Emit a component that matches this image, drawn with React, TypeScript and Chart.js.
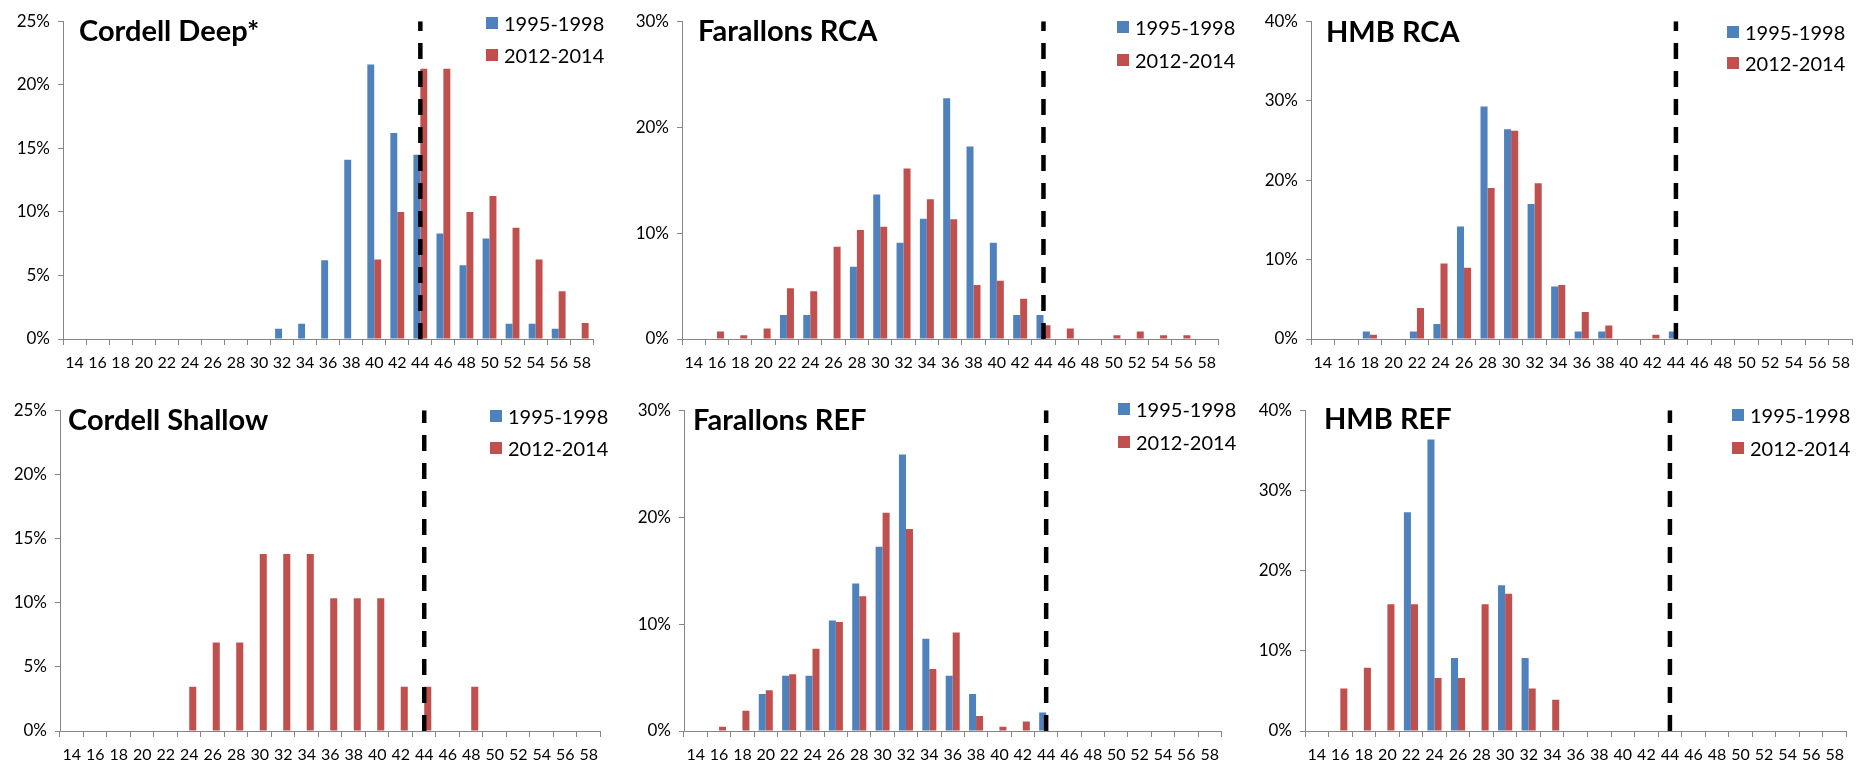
import { useEffect, useRef } from "react";
import { Chart, registerables, type ChartConfiguration } from "chart.js";

Chart.register(...registerables);

// length classes (cm), shared by every panel
const sizes = [
  "14", "16", "18", "20", "22", "24", "26", "28", "30", "32", "34", "36",
  "38", "40", "42", "44", "46", "48", "50", "52", "54", "56", "58",
];
const cutoff = "44";
const seriesNames = ["1995-1998", "2012-2014"];

// percent of fish per size class
const cordellDeepEarly = [0, 0, 0, 0, 0, 0, 0, 0, 0, 0.8, 1.2, 6.2, 14.1, 21.6, 16.2, 14.5, 8.3, 5.8, 7.9, 1.2, 1.2, 0.8, 0];
const cordellDeepLate = [0, 0, 0, 0, 0, 0, 0, 0, 0, 0, 0, 0, 0, 6.25, 10, 21.25, 21.25, 10, 11.25, 8.75, 6.25, 3.75, 1.25];

const farallonsRcaEarly = [0, 0, 0, 0, 2.27, 2.27, 0, 6.82, 13.64, 9.09, 11.36, 22.73, 18.18, 9.09, 2.27, 2.27, 0, 0, 0, 0, 0, 0, 0];
const farallonsRcaLate = [0, 0.7, 0.35, 1.0, 4.8, 4.5, 8.7, 10.3, 10.6, 16.1, 13.2, 11.3, 5.1, 5.5, 3.8, 1.3, 1.0, 0, 0.35, 0.7, 0.35, 0.35, 0];

const hmbRcaEarly = [0, 0, 0.94, 0, 0.94, 1.89, 14.15, 29.25, 26.4, 16.98, 6.6, 0.94, 0.94, 0, 0, 0.94, 0, 0, 0, 0, 0, 0, 0];
const hmbRcaLate = [0, 0, 0.54, 0, 3.9, 9.5, 8.96, 19.0, 26.2, 19.6, 6.8, 3.4, 1.7, 0, 0.54, 0, 0, 0, 0, 0, 0, 0, 0];

const cordellShallowEarly = [0, 0, 0, 0, 0, 0, 0, 0, 0, 0, 0, 0, 0, 0, 0, 0, 0, 0, 0, 0, 0, 0, 0];
const cordellShallowLate = [0, 0, 0, 0, 0, 3.45, 6.9, 6.9, 13.8, 13.8, 13.8, 10.34, 10.34, 10.34, 3.45, 3.45, 0, 3.45, 0, 0, 0, 0, 0];

const farallonsRefEarly = [0, 0, 0, 3.45, 5.17, 5.17, 10.34, 13.79, 17.24, 25.86, 8.62, 5.17, 3.45, 0, 0, 1.72, 0, 0, 0, 0, 0, 0, 0];
const farallonsRefLate = [0, 0.4, 1.9, 3.8, 5.3, 7.7, 10.2, 12.6, 20.4, 18.9, 5.8, 9.2, 1.4, 0.4, 0.9, 0, 0, 0, 0, 0, 0, 0, 0];

const hmbRefEarly = [0, 0, 0, 0, 27.27, 36.36, 9.09, 0, 18.18, 9.09, 0, 0, 0, 0, 0, 0, 0, 0, 0, 0, 0, 0, 0];
const hmbRefLate = [0, 5.3, 7.9, 15.8, 15.8, 6.6, 6.6, 15.8, 17.1, 5.3, 3.9, 0, 0, 0, 0, 0, 0, 0, 0, 0, 0, 0, 0];

const BLUE = "#4F81BD";
const RED = "#C0504D";
const AXIS = "#868686";
const FONT = "Lato, 'Noto Sans', sans-serif";
const Y_AXIS_W = 60;
const X_AXIS_H = 38;
const PAD_TOP = 14;

type PanelProps = {
  title: string;
  early: number[];
  late: number[];
  yMax: number;
  yStep: number;
  plot: { left: number; right: number; top: number; bottom: number };
  titleAt: { x: number; y: number };
  legendAt: { x: number; y1: number; y2: number };
};

function Panel({ title, early, late, yMax, yStep, plot, titleAt, legendAt }: PanelProps) {
  const canvasRef = useRef<HTMLCanvasElement>(null);

  useEffect(() => {
    const canvas = canvasRef.current;
    if (!canvas) return;

    const config: ChartConfiguration = {
      type: "bar",
      data: {
        labels: sizes,
        datasets: [
          {
            label: seriesNames[0],
            data: early,
            backgroundColor: BLUE,
            categoryPercentage: 0.6,
            barPercentage: 1,
          },
          {
            label: seriesNames[1],
            data: late,
            backgroundColor: RED,
            categoryPercentage: 0.6,
            barPercentage: 1,
          },
          {
            // vertical size-limit marker at the 44 cm class
            type: "line",
            label: "cutoff",
            data: [
              { x: cutoff, y: 0 },
              { x: cutoff, y: yMax },
            ] as any,
            borderColor: "#000",
            borderWidth: 4.5,
            borderDash: [16, 12],
            pointRadius: 0,
            order: -1,
          } as any,
        ],
      },
      options: {
        responsive: true,
        maintainAspectRatio: false,
        animation: false,
        layout: { padding: { top: PAD_TOP, right: 0, bottom: 0, left: 0 } },
        plugins: {
          legend: { display: false },
          tooltip: { enabled: false },
        },
        scales: {
          x: {
            offset: true,
            grid: {
              offset: true,
              drawOnChartArea: false,
              tickLength: 6,
              color: AXIS,
            },
            border: { color: AXIS, width: 1 },
            ticks: {
              autoSkip: false,
              maxRotation: 0,
              padding: 8,
              color: "#000",
              font: { family: FONT, size: 16 },
            },
            afterFit: (s: any) => {
              s.height = X_AXIS_H;
            },
          },
          y: {
            min: 0,
            max: yMax,
            grid: { drawOnChartArea: false, tickLength: 5, color: AXIS },
            border: { color: AXIS, width: 1 },
            ticks: {
              stepSize: yStep,
              padding: 8,
              color: "#000",
              font: { family: FONT, size: 17 },
              callback: (v: any) => `${v}%`,
            },
            afterFit: (s: any) => {
              s.width = Y_AXIS_W;
            },
          },
        },
      },
    };

    const chart = new Chart(canvas, config);
    return () => chart.destroy();
  }, [early, late, yMax, yStep]);

  const boxLeft = plot.left - Y_AXIS_W;
  const boxTop = plot.top - PAD_TOP;

  return (
    <>
      <div
        style={{
          position: "absolute",
          left: boxLeft,
          top: boxTop,
          width: plot.right - boxLeft,
          height: plot.bottom + X_AXIS_H - boxTop,
        }}
      >
        <canvas ref={canvasRef} />
      </div>
      <div
        style={{
          position: "absolute",
          left: titleAt.x,
          top: titleAt.y - 18,
          lineHeight: "36px",
          fontFamily: FONT,
          fontWeight: 700,
          fontSize: 29,
          color: "#000",
          whiteSpace: "nowrap",
        }}
      >
        {title}
      </div>
      {[legendAt.y1, legendAt.y2].map((y, i) => (
        <div
          key={i}
          style={{
            position: "absolute",
            left: legendAt.x,
            top: y - 13,
            height: 26,
            display: "flex",
            alignItems: "center",
            fontFamily: FONT,
            fontSize: 20,
            color: "#000",
            whiteSpace: "nowrap",
          }}
        >
          <span
            style={{
              width: 12,
              height: 12,
              background: i === 0 ? BLUE : RED,
              marginRight: 6,
              display: "inline-block",
            }}
          />
          {seriesNames[i]}
        </div>
      ))}
    </>
  );
}

export default function App() {
  useEffect(() => {
    document.body.style.margin = "0";
  }, []);

  return (
    <div style={{ position: "relative", width: 1871, height: 768, background: "#fff", overflow: "hidden" }}>
      <Panel
        title="Cordell Deep*"
        early={cordellDeepEarly}
        late={cordellDeepLate}
        yMax={25}
        yStep={5}
        plot={{ left: 63, right: 599, top: 17, bottom: 339 }}
        titleAt={{ x: 79, y: 30 }}
        legendAt={{ x: 486, y1: 23, y2: 55 }}
      />
      <Panel
        title="Farallons RCA"
        early={farallonsRcaEarly}
        late={farallonsRcaLate}
        yMax={30}
        yStep={10}
        plot={{ left: 682, right: 1224, top: 17, bottom: 339 }}
        titleAt={{ x: 698, y: 30 }}
        legendAt={{ x: 1117, y1: 27, y2: 60 }}
      />
      <Panel
        title="HMB RCA"
        early={hmbRcaEarly}
        late={hmbRcaLate}
        yMax={40}
        yStep={10}
        plot={{ left: 1311, right: 1858, top: 17, bottom: 339 }}
        titleAt={{ x: 1326, y: 31 }}
        legendAt={{ x: 1727, y1: 32, y2: 63 }}
      />
      <Panel
        title="Cordell Shallow"
        early={cordellShallowEarly}
        late={cordellShallowLate}
        yMax={25}
        yStep={5}
        plot={{ left: 60, right: 606, top: 406, bottom: 731 }}
        titleAt={{ x: 68, y: 419 }}
        legendAt={{ x: 490, y1: 416, y2: 448 }}
      />
      <Panel
        title="Farallons REF"
        early={farallonsRefEarly}
        late={farallonsRefLate}
        yMax={30}
        yStep={10}
        plot={{ left: 684, right: 1227, top: 406, bottom: 731 }}
        titleAt={{ x: 693, y: 419 }}
        legendAt={{ x: 1118, y1: 409, y2: 442 }}
      />
      <Panel
        title="HMB REF"
        early={hmbRefEarly}
        late={hmbRefLate}
        yMax={40}
        yStep={10}
        plot={{ left: 1305, right: 1852, top: 406, bottom: 731 }}
        titleAt={{ x: 1324, y: 418 }}
        legendAt={{ x: 1732, y1: 415, y2: 448 }}
      />
    </div>
  );
}
